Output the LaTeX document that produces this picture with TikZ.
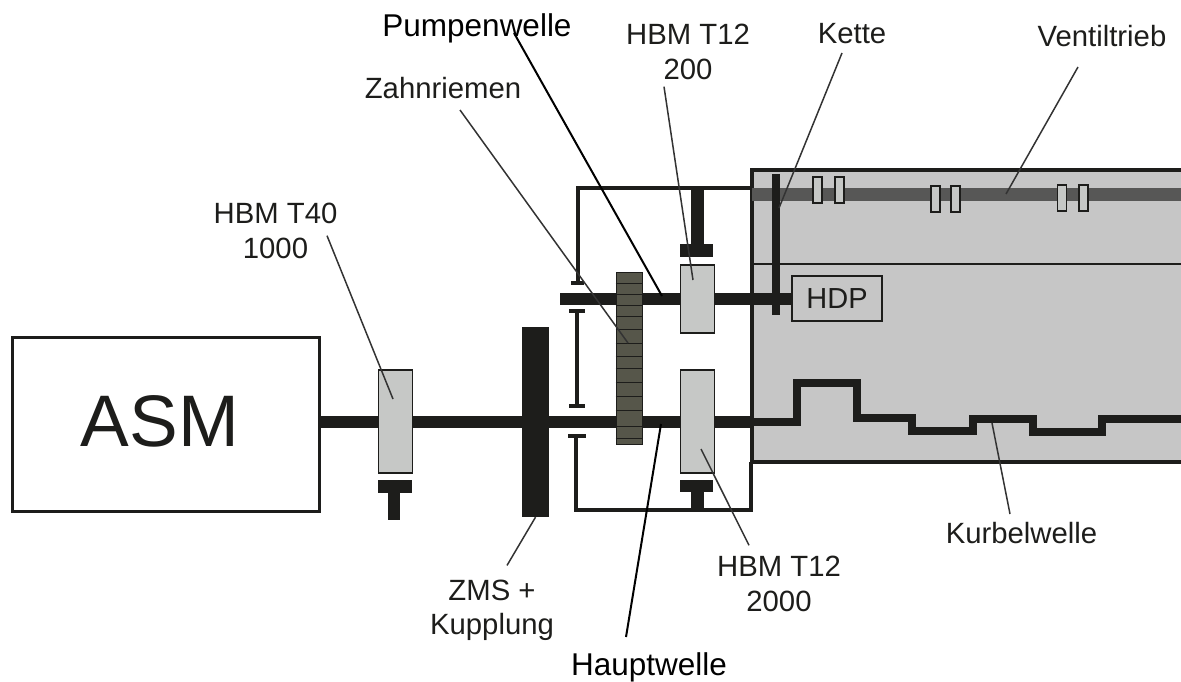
\documentclass[tikz,border=0pt]{standalone}
\usepackage{fontspec}
\setmainfont{Liberation Sans}
\usetikzlibrary{calc}
\definecolor{inkdark}{HTML}{1D1D1B}
\definecolor{housegray}{HTML}{C6C6C6}
\definecolor{sensorgray}{HTML}{C6C8C6}
\definecolor{beltolive}{HTML}{56564A}
\definecolor{valvegray}{HTML}{575756}
\definecolor{leadgray}{HTML}{333333}
\tikzset{
  lbl/.style={font=\fontsize{29.3}{34.2}\selectfont, text=inkdark, align=center, inner sep=0pt},
  biglbl/.style={font=\fontsize{31.5}{36}\selectfont, text=black, inner sep=0pt},
  sensor/.style={draw=inkdark, fill=sensorgray, line width=1.2pt, inner sep=0pt, minimum width=34pt},
  valve/.style={draw=inkdark, fill=sensorgray, line width=1.2pt, inner sep=0pt, minimum width=9pt, minimum height=26pt},
  solid block/.style={fill=inkdark, inner sep=0pt},
  shaft/.style={draw=inkdark, line width=12.5pt},
  crank/.style={draw=inkdark, line width=8pt, miter limit=4},
  rim/.style={draw=inkdark, line width=4pt},
  tick/.style={draw=inkdark, line width=4pt},
  leader/.style={draw=leadgray, line width=1.5pt},
  blackleader/.style={draw=black, line width=2pt},
}
\begin{document}
\begin{tikzpicture}[x=1pt,y=-1pt]
  \useasboundingbox (0,0) rectangle (1181,682);
  % engine housing
  \node[fill=housegray, inner sep=0pt, minimum width=431pt, minimum height=292pt] (house) at (966,316) {};
  \draw[rim] (1181,170) -- (751.5,170) -- (751.5,462) -- (1181,462);
  \draw[draw=inkdark, line width=1.5pt] (752,264) -- (1181,264);
  % the bracket round the belt stage
  \draw[rim] (752,188) -- (578,188) -- (578,283);
  \draw[tick] (571,283) -- (584,283);
  \draw[tick] (569,311) -- (585,311);
  \draw[draw=inkdark, line width=3.5pt] (577,311) -- (577,406);
  \draw[tick] (569,406) -- (585,406);
  \draw[tick] (568,436) -- (586,436);
  \draw[rim] (576,436) -- (576,510) -- (751,510) -- (751,462);
  % machine and flywheel
  \node[draw=inkdark, line width=3.8pt, fill=white, minimum width=307pt, minimum height=174pt, inner sep=0pt] (ASM) at (166,424.5) {};
  \node[font=\fontsize{73}{80}\selectfont, text=inkdark, inner sep=0pt] (lblASM) at (160,421) {ASM};
  \node[solid block, minimum width=27pt, minimum height=190pt] (ZMS) at (535.5,422) {};
  % valve train
  \coordinate (valveStart) at (752,194);
  \coordinate (valveEnd) at (1181,194);
  \draw[draw=valvegray, line width=13pt] (valveStart) -- (valveEnd);
  \foreach \x/\y in {817.5/190, 839.5/190, 935.5/199, 955.5/199, 1062/198, 1083.5/198}
    \node[valve] (valve\x) at (\x,\y) {};
  % HDP and the two shafts
  \node[draw=inkdark, line width=1.2pt, fill=housegray, minimum width=90pt, minimum height=45pt, inner sep=0pt] (HDP) at (837,298.5)
    {\fontsize{29}{34}\selectfont\color{inkdark}HDP};
  \coordinate (pumpStart) at (560,299);
  \draw[shaft] (pumpStart) -- (pumpStart -| HDP.west);
  \coordinate (mainStart) at (320,422);
  \coordinate (crankStart) at (750,422);
  \draw[shaft] (mainStart) -- (crankStart);
  \draw[crank] (crankStart) -- (797,422) -- (797,383) -- (857,383) -- (857,418) -- (912,418) -- (912,431)
    -- (973,431) -- (973,419) -- (1033,419) -- (1033,432) -- (1102,432) -- (1102,419) -- (1181,419);
  % chain
  \coordinate (chainTop) at (776,174);
  \coordinate (chainBottom) at (776,315);
  \draw[draw=inkdark, line width=8.5pt] (chainTop) -- (chainBottom);
  % toothed belt
  \node[draw=inkdark, fill=beltolive, line width=1pt, minimum width=26pt, minimum height=172pt, inner sep=0pt] (belt) at (629,358) {};
  \foreach \y in {283,294,305,316,329,343,356,368,382,396,410,426,438}
    \draw[draw=inkdark, line width=1pt] (belt.west |- 0,\y) -- (belt.east |- 0,\y);
  % torque sensors with their feet
  \node[sensor, minimum height=103pt] (T40) at (395.5,421.5) {};
  \node[sensor, minimum height=68pt] (T12a) at (697.5,299) {};
  \node[sensor, minimum height=103pt] (T12b) at (697.5,421.5) {};
  \node[solid block, minimum width=34pt, minimum height=13pt] (T40foot) at (395,486.5) {};
  \node[solid block, minimum width=12.5pt, minimum height=27pt] (T40stem) at (394,506) {};
  \node[solid block, minimum width=33pt, minimum height=13pt] (T12afoot) at (696.5,250.5) {};
  \node[solid block, minimum width=13pt, minimum height=57pt] (T12astem) at (697,216.5) {};
  \node[solid block, minimum width=33pt, minimum height=12pt] (T12bfoot) at (696.5,486) {};
  \node[solid block, minimum width=13pt, minimum height=20pt] (T12bstem) at (697,501) {};
  % texts
  \node[biglbl, anchor=base] (lblPump) at (477,37) {Pumpenwelle};
  \node[biglbl, anchor=base] (lblHaupt) at (649,675) {Hauptwelle};
  \node[lbl, anchor=base] (lblZahn) at (443,99) {Zahnriemen};
  \node[lbl, anchor=base] (lblKette) at (852,44) {Kette};
  \node[lbl, anchor=base] (lblVentil) at (1102,46.5) {Ventiltrieb};
  \node[lbl, anchor=base] (lblKurbel) at (1021.5,543) {Kurbelwelle};
  \node[lbl] (lblT12a) at (688,52) {HBM T12\\200};
  \node[lbl] (lblT40) at (275.5,231) {HBM T40\\1000};
  \node[lbl] (lblT12b) at (779,584) {HBM T12\\2000};
  \node[lbl] (lblZMS) at (492,610) {ZMS +\\Kupplung};
  % leaders
  \coordinate (tipPump) at (662,296);
  \coordinate (tipHaupt) at (661,424);
  \coordinate (tipZahn) at (628,343);
  \coordinate (tipT12a) at (693,280);
  \coordinate (tipKette) at (779,208);
  \coordinate (tipVentil) at (1006,194);
  \coordinate (tipT40) at (393,399);
  \coordinate (tipT12b) at (701,449);
  \coordinate (tipKurbel) at (992,423);
  \draw[blackleader] ($(lblPump.base)+(37,-4)$) -- (tipPump);
  \draw[blackleader] ($(lblHaupt.base)+(-23,-38)$) -- (tipHaupt);
  \draw[leader] ($(lblZahn.base)+(17,11)$) -- (tipZahn);
  \draw[leader] ($(lblKette.base)+(-10,9)$) -- (tipKette);
  \draw[leader] ($(lblVentil.base)+(-24,20.5)$) -- (tipVentil);
  \draw[leader] ($(lblKurbel.base)+(-11.5,-29)$) -- (tipKurbel);
  \draw[leader] ($(lblT12a.south)+(-24,7)$) -- (tipT12a);
  \draw[leader] ($(lblT40.south)+(51.5,-23)$) -- (tipT40);
  \draw[leader] ($(lblT12b.north)+(-30,-11)$) -- (tipT12b);
  \draw[leader] ($(lblZMS.north)+(15,-14)$) -- (ZMS.south);
\end{tikzpicture}
\end{document}
